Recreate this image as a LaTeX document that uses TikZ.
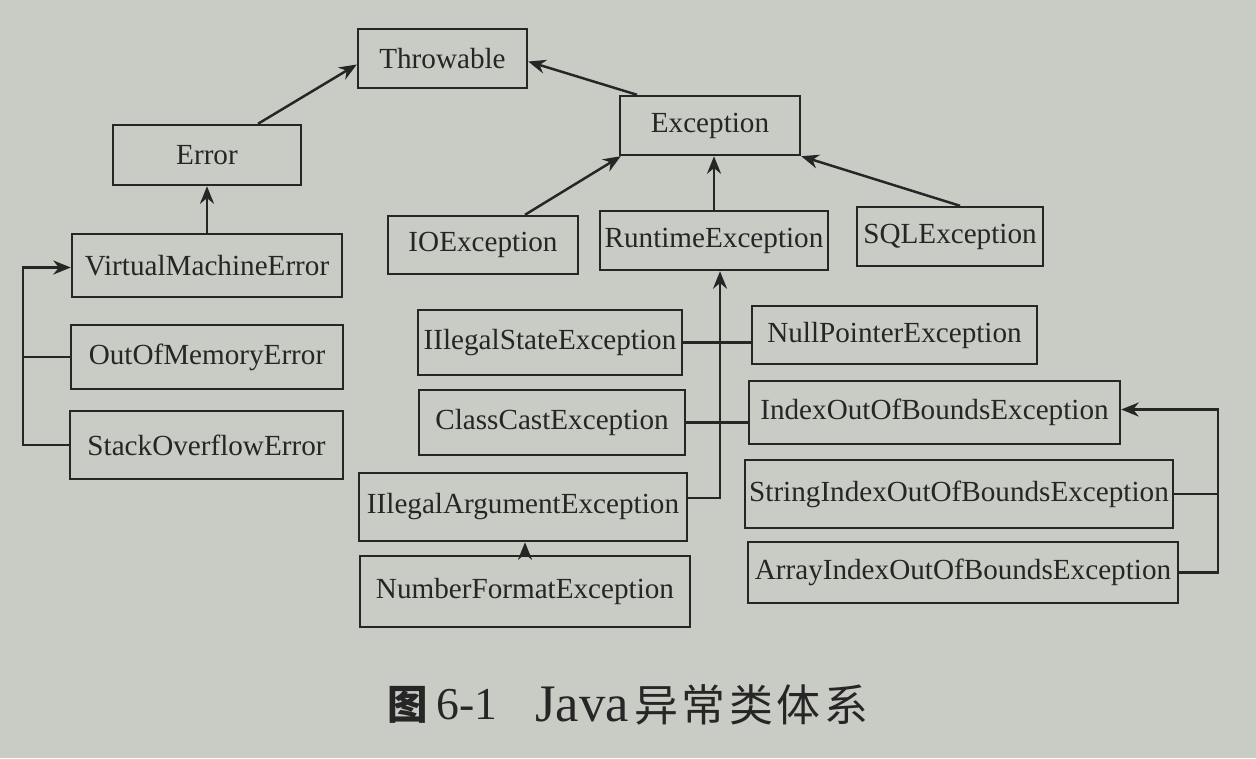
\documentclass[tikz,border=0pt]{standalone}
\usepackage{fontspec}
\setmainfont{Liberation Serif}
\newfontfamily\cjk{Noto Sans CJK SC}
\usetikzlibrary{calc,arrows.meta}
\definecolor{paper}{RGB}{201,204,196}
\definecolor{ink}{RGB}{38,38,38}
\tikzset{
  box/.style={draw=ink, line width=1.4pt, inner sep=0pt, text=ink, font=\fontsize{16.6}{20}\selectfont},
  arr/.style={draw=ink, line width=1.4pt, -{Stealth[length=10pt,width=8pt]}},
  ln/.style={draw=ink, line width=1.4pt},
}
\begin{document}
\begin{tikzpicture}[x=0.02cm,y=-0.02cm]
\fill[paper] (0,0) rectangle (1256,758);
\useasboundingbox (0,0) rectangle (1256,758);
\node[box, minimum width=3.38cm, minimum height=1.18cm] (thr) at (442.5,58.5) {Throwable};
\node[box, minimum width=3.76cm, minimum height=1.2cm] (err) at (207,155) {Error};
\node[box, minimum width=3.6cm, minimum height=1.18cm] (exc) at (710,125.5) {Exception};
\node[box, minimum width=5.4cm, minimum height=1.26cm] (vme) at (207,265.5) {VirtualMachineError};
\node[box, minimum width=5.44cm, minimum height=1.28cm] (oom) at (207,357) {OutOfMemoryError};
\node[box, minimum width=5.46cm, minimum height=1.36cm] (soe) at (206.5,445) {StackOverflowError};
\node[box, minimum width=3.8cm, minimum height=1.16cm] (ioe) at (483,245) {IOException};
\node[box, minimum width=4.56cm, minimum height=1.18cm] (rte) at (714,240.5) {RuntimeException};
\node[box, minimum width=3.72cm, minimum height=1.18cm] (sql) at (950,236.5) {SQLException};
\node[box, minimum width=5.28cm, minimum height=1.3cm] (ise) at (550,342.5) {IIlegalStateException};
\node[box, minimum width=5.7cm, minimum height=1.16cm] (npe) at (894.5,335) {NullPointerException};
\node[box, minimum width=5.32cm, minimum height=1.3cm] (cce) at (552,422.5) {ClassCastException};
\node[box, minimum width=7.42cm, minimum height=1.26cm] (ioobe) at (934.5,412.5) {IndexOutOfBoundsException};
\node[box, minimum width=6.56cm, minimum height=1.36cm] (iae) at (523,507) {IIlegalArgumentException};
\node[box, minimum width=8.56cm, minimum height=1.36cm] (sioobe) at (959,494) {StringIndexOutOfBoundsException};
\node[box, minimum width=6.6cm, minimum height=1.42cm] (nfe) at (525,591.5) {NumberFormatException};
\node[box, minimum width=8.6cm, minimum height=1.22cm] (aioobe) at (963,572.5) {ArrayIndexOutOfBoundsException};
\coordinate (lb) at (23,0);
\coordinate (rx) at (720,0);
\coordinate (rb) at (1218,0);
% connectors
\draw[arr] ($(err.north)+(51,0)$) -- ($(thr.west)+(0,6)$);
\draw[arr] ($(exc.north)+(-73,0)$) -- ($(thr.east)+(0,3)$);
\draw[arr] ($(ioe.north)+(42,0)$) -- ($(exc.south west)+(2,0)$);
\draw[arr] (rte.north) -- (rte.north |- exc.south);
\draw[arr] ($(sql.north)+(10,0)$) -- (exc.south east);
\draw[arr] (vme.north) -- (vme.north |- err.south);
\draw[arr] (soe.west) -- (soe.west -| lb) |- ($(vme.west)+(0,2)$);
\draw[ln] (oom.west) -- (oom.west -| lb);
\draw[arr] ($(iae.east)+(0,-9)$) -- ($(iae.east -| rx)+(0,-9)$) -- (rx |- rte.south);
\draw[ln] (ise.east) -- (ise.east -| npe.west);
\draw[ln] (cce.east) -- (cce.east -| ioobe.west);
\draw[arr] (aioobe.east) -- (aioobe.east -| rb) |- ($(ioobe.east)+(0,-3)$);
\draw[ln] (sioobe.east) -- (sioobe.east -| rb);
\draw[arr] (nfe.north) -- (nfe.north |- iae.south);
% caption
\node[text=ink, font={\cjk\bfseries\fontsize{23}{26}\selectfont}, inner sep=0pt] (fig) at (408,705) {图};
\node[text=ink, font=\fontsize{26}{28}\selectfont, inner sep=0pt, anchor=west] (num) at (436,705) {6-1};
\node[text=ink, font=\fontsize{30}{32}\selectfont, inner sep=0pt, anchor=west] (cap) at (535,705) {Java\hspace{3pt}{\cjk\addfontfeature{LetterSpace=8}\fontsize{25}{28}\selectfont 异常类体系}};
\end{tikzpicture}
\end{document}
